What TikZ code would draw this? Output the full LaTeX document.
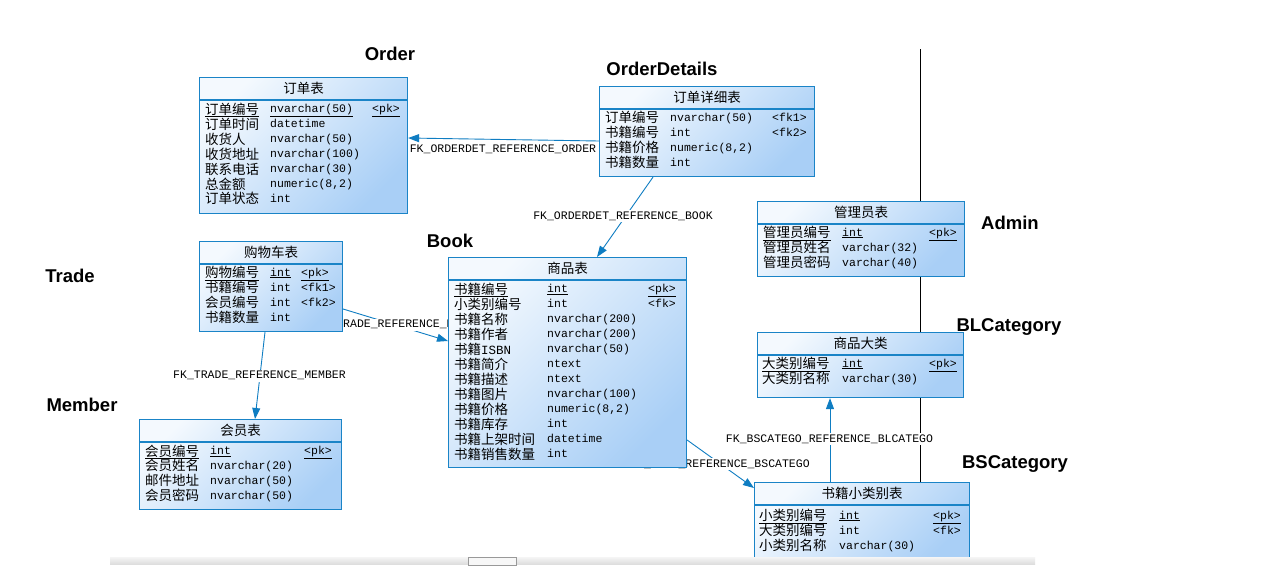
\documentclass[tikz,border=0pt]{standalone}
\usepackage{fontspec}
\setmainfont{Liberation Sans}
\newfontfamily\cjkf{Noto Sans CJK SC}
\newfontfamily\monof{Liberation Mono}
\usetikzlibrary{arrows.meta,calc}
\definecolor{erborder}{HTML}{1A84C7}
\definecolor{erlink}{HTML}{0F7DC2}
\definecolor{erlight}{HTML}{F4F9FE}
\definecolor{erdark}{HTML}{A9CFF6}
\pgfdeclarelayer{bg}\pgfdeclarelayer{mid}\pgfdeclarelayer{fg}
\pgfsetlayers{bg,mid,main,fg}
\tikzset{
  erbox/.style={draw=erborder, line width=1.1pt, top color=erlight, bottom color=erdark, shading angle=45, inner sep=0pt, anchor=north west},
  hdrline/.style={draw=erborder, line width=1.1pt},
  hdr/.style={font=\cjkf\fontsize{13.5}{15}\selectfont, inner sep=0pt, anchor=center},
  rowcjk/.style={font=\cjkf\fontsize{13.5}{15}\selectfont, inner sep=0pt, anchor=base west},
  rowmono/.style={font=\monof\fontsize{11.5}{13}\selectfont, inner sep=0pt, anchor=base west},
  link/.style={draw=erlink, line width=0.9pt},
  linkarrow/.style={link, -{Triangle[length=11pt,width=8pt]}},
  lbl/.style={font=\monof\fontsize{11.5}{13}\selectfont, fill=white, inner xsep=1pt, inner ysep=1.5pt, anchor=base},
  ttl/.style={font=\fontsize{18.5}{20}\selectfont\bfseries, inner sep=0pt, anchor=base},
}
\newcounter{errc}
\newcommand\ertable[6]{%
  \node[erbox, minimum width={#4-#2}, minimum height={#5-#3}] (#1) at (#2,#3) {};
  \draw[hdrline] ($(#1.north west)+(0,23)$) -- ($(#1.north east)+(0,23)$);
  \node[hdr] (#1-h) at ($(#1.north)+(0,11.5)$) {#6};}
\newcommand\errow[7]{\stepcounter{errc}%
  \node[rowcjk] (rn\theerrc) at (#1,#4+5) {#5};
  \node[rowmono] (rt\theerrc) at (#2,#4+3.5) {#6};
  \node[rowmono] (rk\theerrc) at (#3,#4+3.5) {#7};}
\begin{document}
\begin{tikzpicture}[x=1pt,y=-1pt]
\useasboundingbox (0,0) rectangle (1274,571);
\begin{pgfonlayer}{bg}
  \fill[white] (0,0) rectangle (1274,571);
\end{pgfonlayer}

% ---- tables ----
\ertable{order}{199}{77}{407}{213}{订单表}
\errow{205}{270}{372}{109}{\underline{订单编号}}{\underline{nvarchar(50)}}{\underline{<pk>}}
\errow{205}{270}{372}{124}{订单时间}{datetime}{}
\errow{205}{270}{372}{139}{收货人}{nvarchar(50)}{}
\errow{205}{270}{372}{154}{收货地址}{nvarchar(100)}{}
\errow{205}{270}{372}{169}{联系电话}{nvarchar(30)}{}
\errow{205}{270}{372}{184}{总金额}{numeric(8,2)}{}
\errow{205}{270}{372}{198.5}{订单状态}{int}{}

\ertable{od}{599}{86}{814}{176}{订单详细表}
\errow{605}{670}{772}{117.5}{订单编号}{nvarchar(50)}{<fk1>}
\errow{605}{670}{772}{132.5}{书籍编号}{int}{<fk2>}
\errow{605}{670}{772}{147.5}{书籍价格}{numeric(8,2)}{}
\errow{605}{670}{772}{162.5}{书籍数量}{int}{}

\ertable{trade}{199}{241}{342}{331}{购物车表}
\errow{205}{270}{301}{272.5}{\underline{购物编号}}{\underline{int}}{\underline{<pk>}}
\errow{205}{270}{301}{287.5}{书籍编号}{int}{<fk1>}
\errow{205}{270}{301}{302.5}{会员编号}{int}{<fk2>}
\errow{205}{270}{301}{317.5}{书籍数量}{int}{}

\ertable{book}{448}{257}{686}{467}{商品表}
\errow{454}{547}{648}{289}{\underline{书籍编号}}{\underline{int}}{\underline{<pk>}}
\errow{454}{547}{648}{304}{小类别编号}{int}{<fk>}
\errow{454}{547}{648}{319}{书籍名称}{nvarchar(200)}{}
\errow{454}{547}{648}{334}{书籍作者}{nvarchar(200)}{}
\errow{454}{547}{648}{349}{书籍{\monof\fontsize{12.5}{13}\selectfont ISBN}}{nvarchar(50)}{}
\errow{454}{547}{648}{364}{书籍简介}{ntext}{}
\errow{454}{547}{648}{379}{书籍描述}{ntext}{}
\errow{454}{547}{648}{394}{书籍图片}{nvarchar(100)}{}
\errow{454}{547}{648}{409}{书籍价格}{numeric(8,2)}{}
\errow{454}{547}{648}{424}{书籍库存}{int}{}
\errow{454}{547}{648}{439}{书籍上架时间}{datetime}{}
\errow{454}{547}{648}{454}{书籍销售数量}{int}{}

\ertable{member}{139}{419}{341}{509}{会员表}
\errow{145}{210}{304}{451}{\underline{会员编号}}{\underline{int}}{\underline{<pk>}}
\errow{145}{210}{304}{465.5}{会员姓名}{nvarchar(20)}{}
\errow{145}{210}{304}{480.5}{邮件地址}{nvarchar(50)}{}
\errow{145}{210}{304}{495.5}{会员密码}{nvarchar(50)}{}

\ertable{admin}{757}{201}{964}{276}{管理员表}
\errow{763}{842}{929}{232.5}{\underline{管理员编号}}{\underline{int}}{\underline{<pk>}}
\errow{763}{842}{929}{247.5}{管理员姓名}{varchar(32)}{}
\errow{763}{842}{929}{262.5}{管理员密码}{varchar(40)}{}

\ertable{bl}{757}{332}{963}{397}{商品大类}
\errow{762}{842}{929}{363.5}{\underline{大类别编号}}{\underline{int}}{\underline{<pk>}}
\errow{762}{842}{929}{378.5}{大类别名称}{varchar(30)}{}

\ertable{bs}{754}{482}{969}{562}{书籍小类别表}
\errow{759}{839}{933}{515.5}{\underline{小类别编号}}{\underline{int}}{\underline{<pk>}}
\errow{759}{839}{933}{530.5}{大类别编号}{int}{<fk>}
\errow{759}{839}{933}{545.5}{小类别名称}{varchar(30)}{}

% ---- titles ----
\node[ttl] (torder) at (390,60.6) {Order};
\node[ttl] (tod) at (662,75.6) {OrderDetails};
\node[ttl] (tbook) at (450,247.6) {Book};
\node[ttl] (ttrade) at (70,282.6) {Trade};
\node[ttl] (tmember) at (82,411.6) {Member};
\node[ttl] (tadmin) at (1010,229.6) {Admin};
\node[ttl] (tbl) at (1009,331.6) {BLCategory};
\node[ttl] (tbs) at (1015,468.6) {BSCategory};

% ---- vertical black line ----
\begin{pgfonlayer}{bg}
  \coordinate (vtop) at (920,49);
  \draw[black, line width=1pt] (vtop) -- (vtop |- bs.north);
\end{pgfonlayer}

% ---- connectors ----
\begin{pgfonlayer}{mid}
  \draw[linkarrow] ($(od.north west)+(0,55)$) -- ($(order.north east)+(0,61)$);
  \node[lbl] (l1) at (503,152.8) {FK\_ORDERDET\_REFERENCE\_ORDER};

  \draw[linkarrow] ($(od.south west)+(54,0)$) -- ($(book.north west)+(149,0)$);
  \node[lbl] (l2) at (623,219.5) {FK\_ORDERDET\_REFERENCE\_BOOK};

  \draw[linkarrow] ($(trade.north east)+(0,68)$) -- ($(book.north west)+(0,84)$);
  \node[lbl] (l3) at (395,327.8) {FK\_TRADE\_REFERENCE\_BOOK};

  \draw[linkarrow] ($(trade.south west)+(66,0)$) -- ($(member.north west)+(116,0)$);
  \node[lbl] (l4) at (259.5,378.8) {FK\_TRADE\_REFERENCE\_MEMBER};

  \draw[linkarrow] ($(book.north east)+(0,183)$) -- ($(bs.north west)+(0,6)$);
  \node[lbl] (l5) at (720,467.3) {FK\_BOOK\_REFERENCE\_BSCATEGO};

  \draw[linkarrow] ($(bs.north west)+(76,0)$) -- ($(bl.south west)+(73,0)$);
  \node[lbl] (l6) at (829.5,442.3) {FK\_BSCATEGO\_REFERENCE\_BLCATEGO};
\end{pgfonlayer}

% ---- bottom scroll band ----
\begin{pgfonlayer}{fg}
  \fill[white] (740,557) rectangle (980,571);
  \shade[top color=black!4, bottom color=black!13] (110,557) rectangle (1035,564);
  \draw[black!40, fill=black!3, line width=0.6pt] (468,557.5) rectangle (516,565);
\end{pgfonlayer}
\end{tikzpicture}
\end{document}
